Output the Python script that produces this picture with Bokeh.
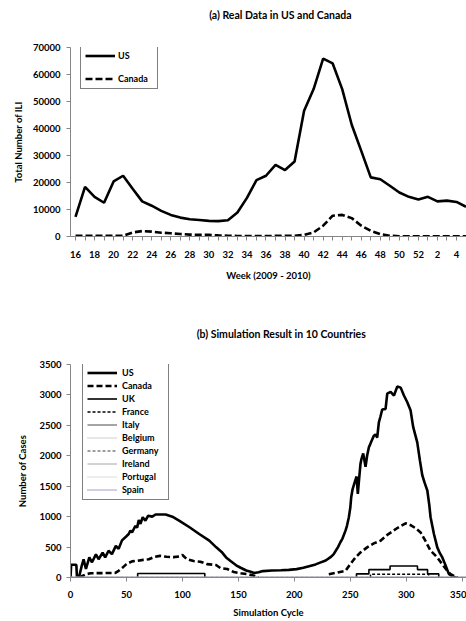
from bokeh.plotting import figure
from bokeh.models import FixedTicker, Legend, LegendItem, Range1d
from bokeh.core.properties import value
from bokeh.layouts import column
from bokeh.embed import file_html
from bokeh.resources import INLINE

nan = float("nan")

# ---------------- (a) real data ----------------
title_a = "(a) Real Data in US and Canada"
weeks = ["16", "17", "18", "19", "20", "21", "22", "23", "24", "25", "26", "27",
         "28", "29", "30", "31", "32", "33", "34", "35", "36", "37", "38", "39",
         "40", "41", "42", "43", "44", "45", "46", "47", "48", "49", "50", "51",
         "52", "1", "2", "3", "4", "5"]
us_real = [7300, 18400, 14700, 12500, 20400, 22500, 17700, 13000, 11400, 9500,
           8000, 7000, 6400, 6100, 5800, 5700, 6000, 8900, 14300, 20900, 22500,
           26500, 24600, 27800, 46600, 54600, 65900, 64100, 54600, 41400, 31700,
           21900, 21200, 18800, 16300, 14700, 13700, 14700, 13000, 13300, 12800,
           11000]
canada_real = [300, 300, 300, 300, 300, 300, 1500, 2000, 1800, 1400, 1200, 900,
               700, 600, 600, 400, 300, 200, 150, 150, 150, 250, 300, 300, 600,
               1500, 4000, 7700, 8000, 6800, 4000, 2100, 900, 300, 100, 100, 100,
               100, 100, 100, 100, 100]
y_ticks_a = [0, 10000, 20000, 30000, 40000, 50000, 60000, 70000]

# ---------------- (b) simulation ----------------
title_b = "(b) Simulation Result in 10 Countries"
sim_us_cycle = [0, 0.6, 5.2, 5.8, 7.5, 10, 11.7, 13.8, 16.8, 19.2, 22.7, 25.1, 28.7,
                31, 34, 37, 40.5, 43, 46, 49, 52, 53.5, 55, 58, 59.5, 61, 62.5, 64.5,
                66.9, 69.4, 73, 76, 85, 91, 97, 106, 115, 124, 130, 135, 139, 143,
                148, 152, 157, 161, 164, 168, 172, 180, 188, 195, 202, 208, 214, 219,
                223, 228, 232, 235, 237, 239, 241, 243, 245.7, 247, 248.7, 250, 250.8,
                252, 253.8, 255.6, 256.7, 258, 259.1, 260, 261.5, 263.6, 265, 266.6,
                268, 271, 272.5, 274, 275.5, 277, 278.5, 281.5, 283, 286, 289, 292,
                295, 297.9, 300.9, 303.8, 306.2, 309.8, 312.2, 314.3, 316.5, 318.8,
                320.5, 321.7, 324.7, 327.7, 330, 332.2, 335.2, 338, 342, 345]
sim_us_cases = [0, 210, 210, 0, 0, 190, 300, 140, 330, 250, 380, 300, 410, 330, 440,
                385, 520, 470, 610, 660, 715, 770, 740, 850, 820, 945, 880, 990, 935,
                1015, 1000, 1035, 1035, 1000, 935, 830, 715, 605, 500, 420, 330, 270,
                200, 160, 115, 95, 75, 85, 105, 115, 120, 125, 138, 160, 190, 215,
                245, 280, 330, 380, 440, 500, 575, 640, 770, 850, 990, 1150, 1320,
                1450, 1560, 1660, 1375, 1650, 1870, 1950, 2040, 1820, 2000, 2140,
                2200, 2330, 2350, 2300, 2550, 2650, 2760, 2770, 3020, 3050, 2990,
                3140, 3120, 2990, 2880, 2750, 2470, 2220, 1920, 1680, 1550, 1430,
                1200, 990, 715, 495, 400, 330, 195, 60, 10, 0]

sim_ca_cycle = [8, 10, 14, 18, 40, 43, 47, 50, 55, 60, 65, 70, 75, 80, 86, 92, 97,
                100, 104, 110, 116, 122, 130, 134, 140, 146, 152, 158, 164, 168, nan,
                230.8, 238, 245.7, 250, 254.6, 259, 265, 271, 277, 283, 292, 299.4,
                303.9, 308, 312.8, 317, 321.7, 327.7, 332, 336.7, 339.6, 344, 346]
sim_ca_cases = [0, 20, 55, 70, 75, 110, 170, 220, 265, 275, 290, 300, 340, 355, 340,
                335, 345, 370, 300, 270, 260, 220, 205, 155, 140, 90, 70, 55, 30, 0,
                nan, 55, 80, 110, 220, 330, 410, 495, 560, 605, 700, 813, 890, 860,
                813, 741, 605, 440, 330, 220, 110, 55, 10, 0]

sim_uk_cycle = [60, 60, 120, 120, nan, 255.5, 255.5, 266.6, 266.6, 285.5, 285.5,
                310, 310, 319, 319, 329, 329]
sim_uk_cases = [0, 65, 65, 0, nan, 0, 60, 60, 130, 130, 190, 190, 130, 130, 60, 60, 0]

sim_fr_cycle = [268, 268, 320, 320]
sim_fr_cases = [0, 55, 55, 0]

zero_cycle = [0, 354]
sim_it_cases = [0, 0]
sim_be_cases = [0, 0]
sim_de_cases = [0, 0]
sim_ie_cases = [0, 0]
sim_pt_cases = [0, 0]
sim_es_cases = [0, 0]

x_ticks_b = [0, 50, 100, 150, 200, 250, 300, 350]
y_ticks_b = [0, 500, 1000, 1500, 2000, 2500, 3000, 3500]

FONT = "Lato"
AXIS_GRAY = "#868686"
W = 466


def style_axes(p):
    for ax in (p.xaxis[0], p.yaxis[0]):
        ax.axis_line_color = AXIS_GRAY
        ax.major_tick_line_color = AXIS_GRAY
        ax.minor_tick_line_color = None
        ax.major_tick_in = 0
        ax.major_tick_out = 4
        ax.major_label_text_font = FONT
        ax.major_label_text_font_style = "bold"
        ax.major_label_text_font_size = "9.5px"
        ax.major_label_text_color = "black"
        ax.axis_label_text_font = FONT
        ax.axis_label_text_font_style = "bold"
        ax.axis_label_text_font_size = "9.5px"
        ax.axis_label_text_color = "black"
    p.xgrid.visible = False
    p.ygrid.visible = False
    p.outline_line_color = None
    p.background_fill_color = "white"
    p.border_fill_color = "white"


def style_legend(leg):
    leg.border_line_color = "black"
    leg.border_line_width = 1
    leg.background_fill_color = "white"
    leg.background_fill_alpha = 1
    leg.label_text_font = FONT
    leg.label_text_font_style = "bold"
    leg.label_text_font_size = "9px"
    leg.label_text_color = "black"
    leg.margin = 0


def title_fig(text, h, cx, cy):
    t = figure(width=W, height=h, output_backend="svg", toolbar_location=None,
               x_range=Range1d(0, W), y_range=Range1d(0, h),
               x_axis_location=None, y_axis_location=None,
               min_border=0, min_border_left=0, min_border_right=0,
               min_border_top=0, min_border_bottom=0)
    t.title.visible = False
    t.xgrid.visible = False
    t.ygrid.visible = False
    t.outline_line_color = None
    t.background_fill_color = "white"
    t.border_fill_color = "white"
    t.text(x=[cx], y=[h - cy], text=[text], text_align="center",
           text_baseline="middle", text_font=value(FONT), text_font_style="bold",
           text_font_size="10.5px", text_color="black")
    return t


# ---------- title (a) ----------
ta = title_fig(title_a, 41, 247, 14)

# ---------- figure (a) ----------
FH1 = 189
p1 = figure(width=W, height=259, output_backend="svg", toolbar_location=None,
            x_range=Range1d(-0.525, 41.05), y_range=Range1d(0, 70000),
            min_border_left=70, min_border_right=0, min_border_top=6,
            min_border_bottom=64)
p1.title.visible = False
xs = list(range(len(weeks)))
r_us = p1.line(xs, us_real, line_color="black", line_width=2.6)
r_ca = p1.line(xs, canada_real, line_color="black", line_width=2.6, line_dash="7 3")
style_axes(p1)
p1.xaxis[0].ticker = FixedTicker(ticks=xs)
p1.xaxis[0].major_label_overrides = {i: (weeks[i] if i % 2 == 0 else "") for i in xs}
p1.xaxis[0].major_label_standoff = 10
p1.xaxis[0].axis_label = "Week (2009 - 2010)"
p1.xaxis[0].axis_label_standoff = 9
p1.yaxis[0].ticker = FixedTicker(ticks=y_ticks_a)
p1.yaxis[0].major_label_overrides = {v: str(v) for v in y_ticks_a}
p1.yaxis[0].major_label_standoff = 6
p1.yaxis[0].axis_label = "Total Number of ILI"
p1.yaxis[0].axis_label_standoff = 6

leg1 = Legend(items=[LegendItem(label="US", renderers=[r_us]),
                     LegendItem(label="Canada", renderers=[r_ca])],
              padding=4, spacing=12, label_height=11, glyph_height=11,
              glyph_width=30, label_standoff=3, label_width=35)
style_legend(leg1)
leg1.location = (10, FH1 - 42)
p1.add_layout(leg1)

# ---------- title (b) ----------
tb = title_fig(title_b, 58, 248, 33)

# ---------- figure (b) ----------
FH2 = 213
p2 = figure(width=W, height=263, output_backend="svg", toolbar_location=None,
            x_range=Range1d(0, 353.8), y_range=Range1d(0, 3500),
            min_border_left=70, min_border_right=0, min_border_top=6,
            min_border_bottom=44)
p2.title.visible = False
b_us = p2.line(sim_us_cycle, sim_us_cases, line_color="black", line_width=2.6)
b_ca = p2.line(sim_ca_cycle, sim_ca_cases, line_color="black", line_width=2.6, line_dash="6 3")
b_uk = p2.line(sim_uk_cycle, sim_uk_cases, line_color="black", line_width=1.6)
b_fr = p2.line(sim_fr_cycle, sim_fr_cases, line_color="black", line_width=1.5, line_dash="3 2")
b_it = p2.line(zero_cycle, sim_it_cases, line_color="#7f7f7f", line_width=1.4)
b_be = p2.line(zero_cycle, sim_be_cases, line_color="#bfbfbf", line_width=1.3, line_dash="1 1")
b_de = p2.line(zero_cycle, sim_de_cases, line_color="#7f7f7f", line_width=1.3, line_dash="3 2")
b_ie = p2.line(zero_cycle, sim_ie_cases, line_color="#a6a6a6", line_width=1)
b_ie_m = p2.scatter([], [], marker="circle", size=3, fill_color="#a6a6a6", line_color="#a6a6a6")
b_pt = p2.line(zero_cycle, sim_pt_cases, line_color="#cfcfcf", line_width=1.3, line_dash="1 1")
b_pt_m = p2.scatter([], [], marker="circle", size=2.5, fill_color="#c8c8c8", line_color="#c8c8c8")
b_es = p2.line(zero_cycle, sim_es_cases, line_color="#a39fc6", line_width=2, line_dash="1 1")
style_axes(p2)
p2.xaxis[0].ticker = FixedTicker(ticks=x_ticks_b)
p2.xaxis[0].major_label_standoff = 9
p2.xaxis[0].axis_label = "Simulation Cycle"
p2.xaxis[0].axis_label_standoff = 6
p2.yaxis[0].ticker = FixedTicker(ticks=y_ticks_b)
p2.yaxis[0].major_label_standoff = 5
p2.yaxis[0].axis_label = "Number of Cases"
p2.yaxis[0].axis_label_standoff = 8

leg2 = Legend(items=[LegendItem(label="US", renderers=[b_us]),
                     LegendItem(label="Canada", renderers=[b_ca]),
                     LegendItem(label="UK", renderers=[b_uk]),
                     LegendItem(label="France", renderers=[b_fr]),
                     LegendItem(label="Italy", renderers=[b_it]),
                     LegendItem(label="Belgium", renderers=[b_be]),
                     LegendItem(label="Germany", renderers=[b_de]),
                     LegendItem(label="Ireland", renderers=[b_ie, b_ie_m]),
                     LegendItem(label="Portugal", renderers=[b_pt, b_pt_m]),
                     LegendItem(label="Spain", renderers=[b_es])],
              padding=4, spacing=2, label_height=11, glyph_height=11,
              glyph_width=30, label_standoff=5, label_width=42)
style_legend(leg2)
leg2.location = (12, FH2 - 136)
p2.add_layout(leg2)

layout = column(ta, p1, tb, p2, spacing=0)
open("out.html", "w").write(file_html(layout, INLINE))
